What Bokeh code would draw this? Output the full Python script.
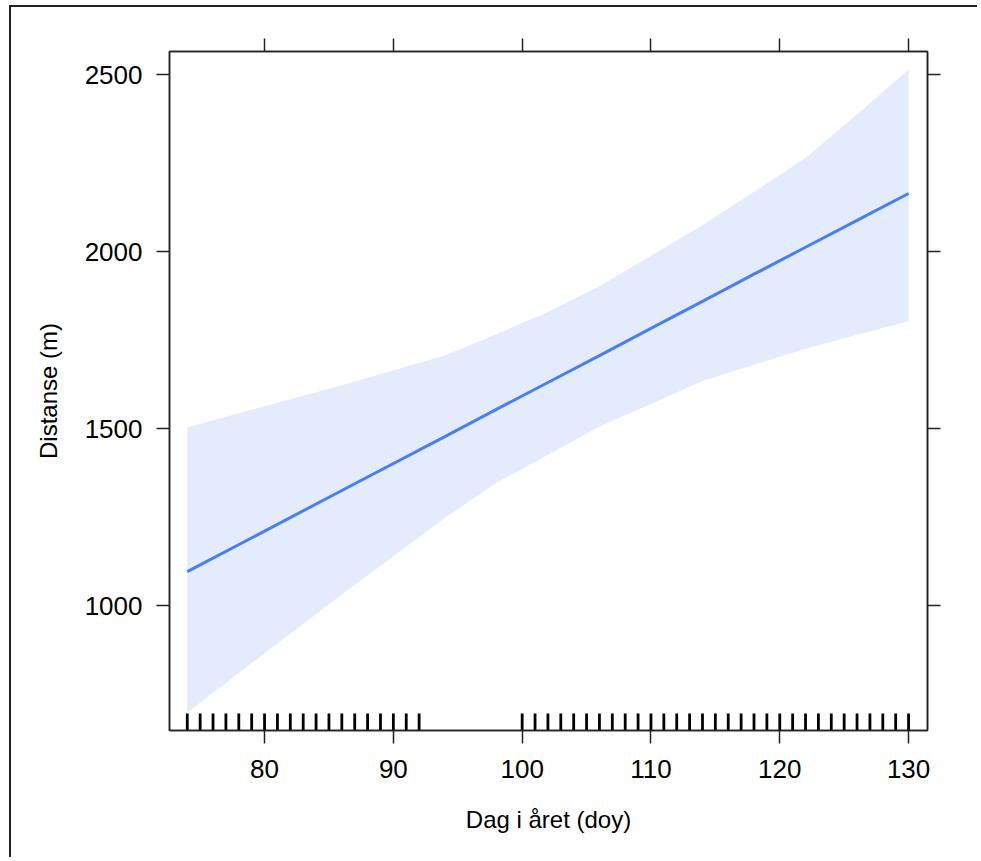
from bokeh.plotting import figure
from bokeh.models import LinearAxis, FixedTicker, Range1d, CustomLabelingPolicy
from bokeh.embed import file_html
from bokeh.resources import INLINE

# ---- data ----
doy = [74, 80, 86, 94, 98, 102, 106, 110, 114, 118, 122, 126, 130]
fit = [1096, 1210, 1325, 1477, 1554, 1630, 1706, 1783, 1859, 1936, 2012, 2088, 2164]
upper = [1503, 1563, 1622, 1706, 1766, 1829, 1902, 1988, 2074, 2169, 2264, 2387, 2514]
lower = [698, 865, 1031, 1247, 1347, 1425, 1506, 1569, 1634, 1680, 1725, 1765, 1803]
rug_days = list(range(74, 93)) + list(range(100, 131))
x_ticks = [80, 90, 100, 110, 120, 130]
y_ticks = [1000, 1500, 2000, 2500]
x_label = "Dag i året (doy)"
y_label = "Distanse (m)"

FONT = "Liberation Sans"
W, H = 968, 852
FL, FT, FW, FH = 158, 44, 758, 679

p = figure(width=W, height=H, output_backend="svg", toolbar_location=None,
           x_range=Range1d(72.62, 131.47), y_range=Range1d(647, 2565),
           min_border_left=FL, min_border_top=FT,
           min_border_right=W - FL - FW, min_border_bottom=H - FT - FH,
           x_axis_label=x_label, y_axis_label=y_label)
p.styles = {"position": "relative", "left": "9px", "top": "5px",
            "border-left": "2px solid #222222", "border-top": "2px solid #222222"}
p.grid.visible = False
p.outline_line_color = "#222222"
p.outline_line_width = 1.5
p.background_fill_color = "white"
p.border_fill_color = "white"

p.varea(x=doy, y1=lower, y2=upper, fill_color="#E4EBFC", fill_alpha=1.0)
p.line(x=doy, y=fit, line_color="#4A7FF2", line_width=3)
p.rect(x=rug_days, y=[647] * len(rug_days), width=2.8, height=34,
       width_units="screen", height_units="screen",
       fill_color="black", line_color=None)

bottom_ax = p.below[0]
left_ax = p.left[0]
top_ax = LinearAxis()
right_ax = LinearAxis()
p.add_layout(top_ax, "above")
p.add_layout(right_ax, "right")

bottom_ax.ticker = FixedTicker(ticks=x_ticks)
top_ax.ticker = FixedTicker(ticks=x_ticks)
left_ax.ticker = FixedTicker(ticks=y_ticks)
right_ax.ticker = FixedTicker(ticks=y_ticks)

for ax in (bottom_ax, left_ax, top_ax, right_ax):
    ax.axis_line_color = "#222222"
    ax.axis_line_width = 1.5
    ax.major_tick_line_color = "#222222"
    ax.major_tick_line_width = 1.5
    ax.major_tick_out = 13
    ax.major_tick_in = 0
    ax.minor_tick_line_color = None
    ax.major_label_text_font = FONT
    ax.major_label_text_font_size = "26px"
    ax.major_label_text_color = "black"
    ax.axis_label_text_font = FONT
    ax.axis_label_text_font_size = "24px"
    ax.axis_label_text_font_style = "normal"
    ax.axis_label_text_color = "black"

hide_all = CustomLabelingPolicy(code="return new Set()")
for ax in (top_ax, right_ax):
    ax.major_label_policy = hide_all
    ax.major_label_text_font_size = "1px"
    ax.major_label_standoff = 0

bottom_ax.major_label_standoff = 16
bottom_ax.axis_label_standoff = 25
left_ax.major_label_standoff = 14
left_ax.axis_label_standoff = 20

open("out.html", "w").write(file_html(p, INLINE))
